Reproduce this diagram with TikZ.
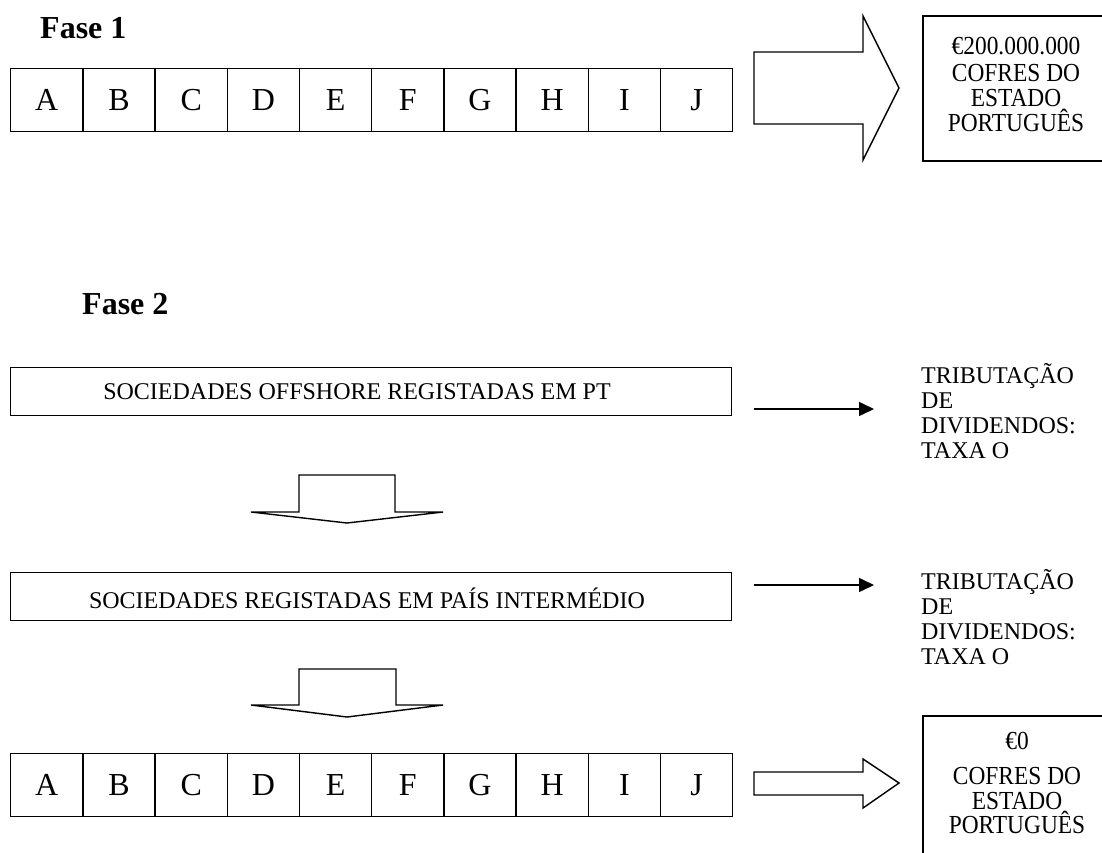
\documentclass[tikz,border=0pt]{standalone}
\usepackage{fontspec}
\setmainfont{Liberation Serif}
\newfontfamily\narrowserif[FakeStretch=0.9]{Liberation Serif}
\usetikzlibrary{arrows.meta}

\begin{document}
\begin{tikzpicture}[x=1pt,y=-1pt,
  outline/.style={draw=black,line width=1.4pt,line join=miter},
  cell/.style={outline,anchor=north west,minimum width=72.2pt,minimum height=63pt,
    inner sep=0pt,text height=21pt,text depth=0pt,font=\fontsize{32}{36}\selectfont},
  phase/.style={anchor=base west,inner sep=0pt,font=\fontsize{32}{36}\selectfont\bfseries},
  band/.style={outline,anchor=north west,minimum width=721pt,minimum height=48pt,inner sep=0pt},
  bandtext/.style={anchor=base,inner sep=0pt,font=\fontsize{24}{26}\selectfont},
  taxline/.style={anchor=base west,inner sep=0pt,font=\fontsize{24}{26}\selectfont},
  safeline/.style={anchor=base,inner sep=0pt,font=\narrowserif\fontsize{26}{26}\selectfont},
  thin/.style={line width=1.5pt,-{Triangle[length=15pt,width=14pt]}}
]
\useasboundingbox (0,0) rectangle (1102,852);

% ---- Fase 1 ----
\node[phase] (f1) at (40,38) {Fase 1};
\foreach \l [count=\i from 0] in {A,B,C,D,E,F,G,H,I,J}
  \node[cell] (top\i) at ({10+72.2*\i},68) {\l};

% wide block arrow towards the treasury
\coordinate (ba1) at (754,52);
\draw[outline] (ba1) -- (863,52) -- (863,16) -- (899,88) -- (863,160)
  -- (863,124) -- (754,124) -- cycle;

\draw[outline] (923,16) rectangle (1108,161);
\node[safeline] (s1a) at (1016,54) {€200.000.000};
\node[safeline] (s1b) at (1016,81) {COFRES DO};
\node[safeline] (s1c) at (1016,106) {ESTADO};
\node[safeline] (s1d) at (1016,131) {PORTUGUÊS};

% ---- Fase 2 ----
\node[phase] (f2) at (82,314) {Fase 2};

\node[band] (off) at (10,367) {};
\node[bandtext] (offt) at (357,399) {SOCIEDADES OFFSHORE REGISTADAS EM PT};

\coordinate (a1s) at (754,409);
\coordinate (a1e) at (874,409);
\draw[thin] (a1s) -- (a1e);
\node[taxline] (t1a) at (921,383) {TRIBUTAÇÃO};
\node[taxline] (t1b) at (921,408) {DE};
\node[taxline] (t1c) at (921,433) {DIVIDENDOS:};
\node[taxline] (t1d) at (921,458) {TAXA O};

% first downward block arrow
\draw[outline] (299,475) -- (395,475) -- (395,512) -- (443,512) -- (347,523)
  -- (251,512) -- (299,512) -- cycle;

\node[band] (mid) at (10,572) {};
\node[bandtext] (midt) at (367,608) {SOCIEDADES REGISTADAS EM PAÍS INTERMÉDIO};

\coordinate (a2s) at (754,585);
\coordinate (a2e) at (874,585);
\draw[thin] (a2s) -- (a2e);
\node[taxline] (t2a) at (921,589) {TRIBUTAÇÃO};
\node[taxline] (t2b) at (921,614) {DE};
\node[taxline] (t2c) at (921,639) {DIVIDENDOS:};
\node[taxline] (t2d) at (921,664) {TAXA O};

% second downward block arrow
\draw[outline] (299,669) -- (396,669) -- (396,705) -- (443,705) -- (347,717)
  -- (251,705) -- (299,705) -- cycle;

\foreach \l [count=\i from 0] in {A,B,C,D,E,F,G,H,I,J}
  \node[cell] (bot\i) at ({10+72.2*\i},753) {\l};

% narrow block arrow towards the treasury
\draw[outline] (754,772) -- (863,772) -- (863,759) -- (899,783) -- (863,808)
  -- (863,795) -- (754,795) -- cycle;

\draw[outline] (923,716) rectangle (1108,860);
\node[safeline] (s2a) at (1017,749) {€0};
\node[safeline] (s2b) at (1017,784) {COFRES DO};
\node[safeline] (s2c) at (1017,809) {ESTADO};
\node[safeline] (s2d) at (1017,833) {PORTUGUÊS};
\end{tikzpicture}
\end{document}
